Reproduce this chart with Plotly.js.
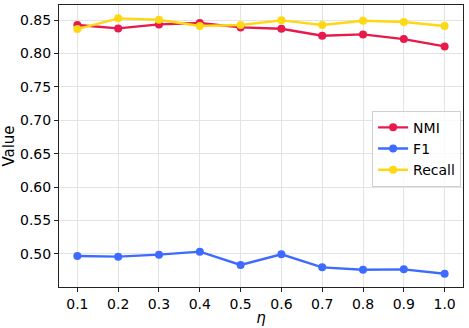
<!DOCTYPE html>
<html>
<head>
<meta charset="utf-8">
<script src="https://cdn.plot.ly/plotly-3.0.1.min.js"></script>
<style>
  html, body { margin: 0; padding: 0; background: #fff; }
  #chart { width: 469px; height: 328px; }
</style>
</head>
<body>
<div id="chart"></div>
<script>
// eta values on the x axis
const eta = [0.1, 0.2, 0.3, 0.4, 0.5, 0.6, 0.7, 0.8, 0.9, 1.0];
const nmi = [0.8425, 0.8375, 0.8435, 0.8455, 0.839, 0.837, 0.8265, 0.8285, 0.8215, 0.8105];
const f1 = [0.497, 0.496, 0.499, 0.5035, 0.4835, 0.4995, 0.480, 0.4765, 0.477, 0.4705];
const recall = [0.8365, 0.8525, 0.8505, 0.841, 0.8425, 0.8495, 0.8425, 0.849, 0.847, 0.841];

const yTicks = [0.50, 0.55, 0.60, 0.65, 0.70, 0.75, 0.80, 0.85];

function series(name, y, color) {
  return {
    type: "scatter", mode: "lines+markers",
    x: eta, y: y, name: name,
    line: { color: color, width: 2.4 },
    marker: { color: color, size: 8 }
  };
}

const traces = [
  series("NMI", nmi, "#e8194b"),
  series("F1", f1, "#3e6bff"),
  series("Recall", recall, "#ffd814")
];

const axisCommon = {
  showline: true, linecolor: "#222", linewidth: 1, mirror: true,
  ticks: "outside", ticklen: 4, tickcolor: "#222",
  showgrid: true, gridcolor: "#e3e3e3", gridwidth: 1,
  zeroline: false,
  tickfont: { family: "DejaVu Sans", size: 14, color: "#000" }
};

const layout = {
  width: 469, height: 328,
  margin: { l: 59, r: 6, t: 5, b: 41 },
  paper_bgcolor: "#fff", plot_bgcolor: "#fff",
  font: { family: "DejaVu Sans", size: 14, color: "#000" },
  xaxis: Object.assign({}, axisCommon, {
    range: [0.055, 1.045],
    tickvals: eta,
    ticktext: eta.map(v => v.toFixed(1)),
    title: { text: "<i>η</i>", font: { family: "DejaVu Sans", size: 15 }, standoff: 1 }
  }),
  yaxis: Object.assign({}, axisCommon, {
    range: [0.4506, 0.8725],
    tickvals: yTicks,
    ticktext: yTicks.map(v => v.toFixed(2)),
    title: { text: "Value", font: { family: "DejaVu Sans", size: 15 }, standoff: 3 }
  }),
  showlegend: true,
  legend: {
    x: 0.775, y: 0.625, xanchor: "left", yanchor: "top",
    bgcolor: "rgba(255,255,255,0.8)",
    bordercolor: "#d0d0d0", borderwidth: 1,
    font: { family: "DejaVu Sans", size: 14 },
    itemwidth: 30
  }
};

Plotly.newPlot("chart", traces, layout, { displayModeBar: false, staticPlot: true });
</script>
</body>
</html>
